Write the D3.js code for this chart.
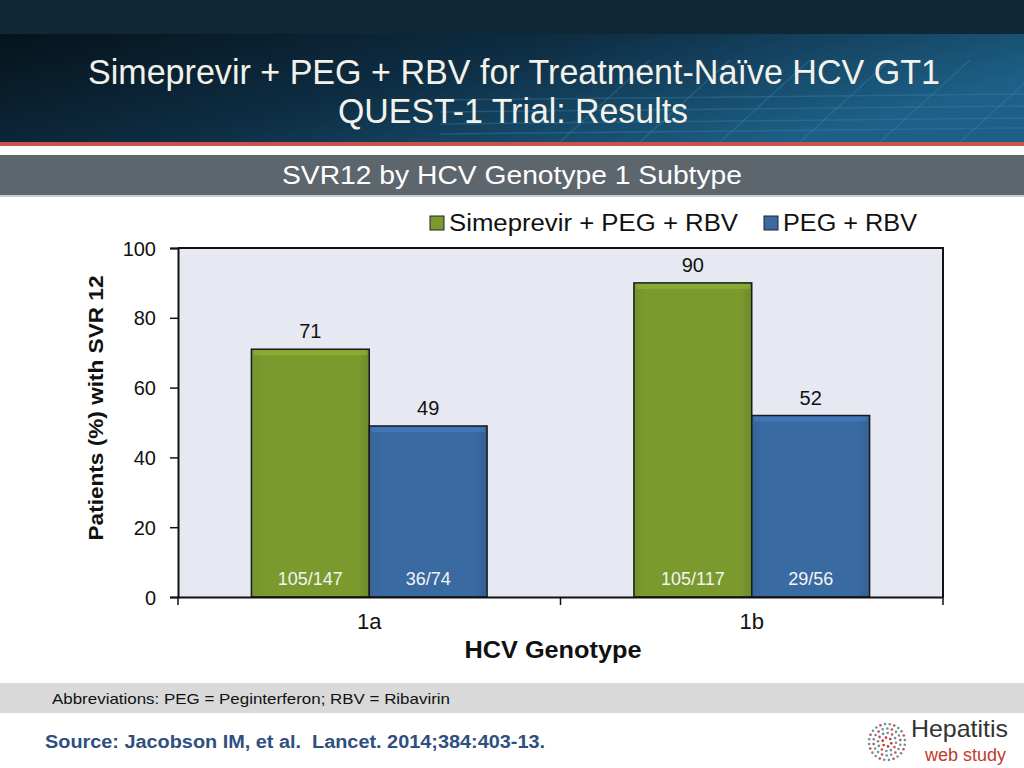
<!DOCTYPE html>
<html><head><meta charset="utf-8">
<script src="https://cdn.jsdelivr.net/npm/d3@7"></script>
<style>html,body{margin:0;padding:0;background:#fff;}svg{display:block;font-family:"Liberation Sans",Arial,sans-serif;}</style>
</head><body>
<svg id="c" width="1024" height="768"></svg>
<script>
const categories = ["1a", "1b"];
const seriesNames = ["Simeprevir + PEG + RBV", "PEG + RBV"];
const simeprevirValues = [71, 90];
const pegValues = [49, 52];
const simeprevirCounts = ["105/147", "105/117"];
const pegCounts = ["36/74", "29/56"];
const yTicks = [0, 20, 40, 60, 80, 100];
const colors = ["#7a9a2e", "#3a6aa2"];

const svg = d3.select("#c");
const defs = svg.append("defs");

function txt(x, y, s, size, opts = {}) {
  const t = svg.append("text").attr("x", x).attr("y", y).attr("font-size", size)
    .attr("text-anchor", opts.anchor || "start").attr("fill", opts.fill || "#111").text(s);
  if (opts.weight) t.attr("font-weight", opts.weight);
  if (opts.len) t.attr("textLength", opts.len).attr("lengthAdjust", "spacingAndGlyphs");
  if (opts.family) t.attr("font-family", opts.family);
  if (opts.pre) t.style("white-space", "pre");
  return t;
}

// header
const hg = defs.append("linearGradient").attr("id","hg").attr("x1","0").attr("x2","1").attr("y1","0").attr("y2","0.4");
hg.append("stop").attr("offset","0").attr("stop-color","#06131c");
hg.append("stop").attr("offset","0.5").attr("stop-color","#0e2e44");
hg.append("stop").attr("offset","1").attr("stop-color","#1d5f86");
svg.append("rect").attr("x",0).attr("y",0).attr("width",1024).attr("height",34).attr("fill","#0e2838");
svg.append("rect").attr("x",0).attr("y",34).attr("width",1024).attr("height",108).attr("fill","url(#hg)");
const gridG = svg.append("g").attr("stroke","#3b86b0").attr("stroke-opacity",0.35).attr("stroke-width",1.5);
[100,112,124,134].forEach(y=>gridG.append("line").attr("x1",440).attr("x2",1024).attr("y1",y).attr("y2",y-6));
[560,640,720,800,880,960].forEach(x=>gridG.append("line").attr("x1",x).attr("x2",x+90).attr("y1",142).attr("y2",60));
svg.append("rect").attr("x",0).attr("y",142).attr("width",1024).attr("height",4).attr("fill","#c9524e");
svg.append("rect").attr("x",0).attr("y",155).attr("width",1024).attr("height",40).attr("fill","#5d656d");
svg.append("rect").attr("x",0).attr("y",195).attr("width",1024).attr("height",2).attr("fill","#c8ccd0");

txt(514, 84, "Simeprevir + PEG + RBV for Treatment-Naïve HCV GT1", 35, {anchor:"middle", fill:"#f2f2ea", len:852});
txt(513, 123, "QUEST-1 Trial: Results", 35, {anchor:"middle", fill:"#f2f2ea", len:350});
txt(512, 184, "SVR12 by HCV Genotype 1 Subtype", 25, {anchor:"middle", fill:"#ffffff", len:460});

// chart
const L=178, R=943, T=248, B=597;
const x0 = d3.scaleBand().domain(categories).range([L,R]).paddingInner(0).paddingOuter(0);
const x1 = d3.scaleBand().domain([0,1]).range([0,x0.bandwidth()]).paddingInner(0).paddingOuter(0.623);
const y = d3.scaleLinear().domain([0,100]).range([B,T]);

svg.append("rect").attr("x",L).attr("y",T).attr("width",R-L).attr("height",B-T).attr("fill","#e6e9f1");
svg.append("path").attr("d",`M${L},${T}H${R}V${B}`).attr("fill","none").attr("stroke","#111").attr("stroke-width",2);

colors.forEach((c,i)=>{
  const g = defs.append("linearGradient").attr("id","bg"+i).attr("x1","0").attr("x2","1").attr("y1","0").attr("y2","0");
  g.append("stop").attr("offset","0").attr("stop-color",d3.color(c).darker(0.15));
  g.append("stop").attr("offset","0.1").attr("stop-color",c);
  g.append("stop").attr("offset","0.9").attr("stop-color",c);
  g.append("stop").attr("offset","1").attr("stop-color",d3.color(c).darker(0.3));
});

const data = [];
categories.forEach((cat,ci)=>{
  data.push({cat, s:0, v:simeprevirValues[ci], n:simeprevirCounts[ci]});
  data.push({cat, s:1, v:pegValues[ci], n:pegCounts[ci]});
});

const bars = svg.append("g").selectAll("g").data(data).join("g");
bars.append("rect")
  .attr("x",d=>x0(d.cat)+x1(d.s)).attr("y",d=>y(d.v))
  .attr("width",x1.bandwidth()).attr("height",d=>B-y(d.v))
  .attr("fill",d=>"url(#bg"+d.s+")").attr("stroke","#1a1a1a").attr("stroke-width",1.5);
bars.append("rect")
  .attr("x",d=>x0(d.cat)+x1(d.s)+2).attr("y",d=>y(d.v)+1)
  .attr("width",x1.bandwidth()-4).attr("height",5)
  .attr("fill",d=>d3.color(colors[d.s]).brighter(0.5)).attr("opacity",0.6);
bars.append("text")
  .attr("x",d=>x0(d.cat)+x1(d.s)+x1.bandwidth()/2).attr("y",d=>y(d.v)-11)
  .attr("text-anchor","middle").attr("font-size",20).attr("fill","#111").text(d=>d.v);
bars.append("text")
  .attr("x",d=>x0(d.cat)+x1(d.s)+x1.bandwidth()/2).attr("y",585)
  .attr("text-anchor","middle").attr("font-size",18).attr("fill","#f4f4f4").text(d=>d.n);

// y axis
const yAxis = svg.append("g").attr("transform",`translate(${L},0)`)
  .call(d3.axisLeft(y).tickValues(yTicks).tickSize(8).tickPadding(14));
yAxis.select(".domain").attr("stroke","#111").attr("stroke-width",2);
yAxis.selectAll(".tick line").attr("stroke","#111").attr("stroke-width",1.5);
yAxis.selectAll(".tick text").attr("font-size",20).attr("fill","#111").attr("font-family","Liberation Sans, Arial, sans-serif").attr("dy","0.35em");

// x axis
const xAxis = svg.append("g").attr("transform",`translate(0,${B})`)
  .call(d3.axisBottom(x0).tickSize(0).tickPadding(16));
xAxis.select(".domain").attr("stroke","#111").attr("stroke-width",2);
xAxis.selectAll(".tick text").attr("font-size",22).attr("fill","#111").attr("font-family","Liberation Sans, Arial, sans-serif");
const sepTicks = [L, ...categories.map(c=>x0(c)+x0.bandwidth())];
svg.append("g").selectAll("line").data(sepTicks).join("line")
  .attr("x1",d=>d).attr("x2",d=>d).attr("y1",B).attr("y2",B+8).attr("stroke","#111").attr("stroke-width",1.5);

txt(553, 658, "HCV Genotype", 23, {anchor:"middle", weight:"bold", len:177});
svg.append("text").attr("transform","translate(103,408) rotate(-90)").attr("text-anchor","middle")
  .attr("font-size",21).attr("font-weight","bold").attr("fill","#111")
  .attr("textLength",265).attr("lengthAdjust","spacingAndGlyphs").text("Patients (%) with SVR 12");

// legend
const legX = [430, 764];
const legLen = [289, 134];
const leg = svg.append("g").selectAll("g").data(seriesNames).join("g").attr("transform",(d,i)=>`translate(${legX[i]},216)`);
leg.append("rect").attr("width",14).attr("height",14).attr("fill",(d,i)=>colors[i]).attr("stroke","#222").attr("stroke-width",1);
leg.append("text").attr("x",19).attr("y",15).attr("font-size",23).attr("fill","#111")
  .attr("textLength",(d,i)=>legLen[i]).attr("lengthAdjust","spacingAndGlyphs").text(d=>d);

// footer
svg.append("rect").attr("x",0).attr("y",683).attr("width",1024).attr("height",30).attr("fill","#d9d9d9");
txt(52, 704, "Abbreviations: PEG = Peginterferon; RBV = Ribavirin", 15, {len:398});
txt(45, 748, "Source: Jacobson IM, et al.  Lancet. 2014;384:403-13.", 18, {weight:"bold", fill:"#2f4f7f", len:500, pre:true});

// logo
const logo = svg.append("g").attr("transform","translate(887,742)");
const dotsData = [];
for (let r=1;r<=4;r++){ const n=r*6; for(let k=0;k<n;k++){ const a=k/n*2*Math.PI + r*0.3; dotsData.push({x:Math.cos(a)*r*4.5, y:Math.sin(a)*r*4.5, r}); } }
logo.selectAll("circle").data(dotsData).join("circle").attr("cx",d=>d.x).attr("cy",d=>d.y).attr("r",1.3)
  .attr("fill",(d,i)=>d.r<=1?"#c0392b":(i%3===0?"#c0504d":(i%3===1?"#5a9aa8":"#888")));
txt(911, 737, "Hepatitis", 24, {fill:"#333", family:"Liberation Sans, sans-serif", len:97});
txt(925, 761, "web study", 18, {fill:"#c0392b", family:"Liberation Sans, sans-serif", len:81});
</script>
</body></html>
